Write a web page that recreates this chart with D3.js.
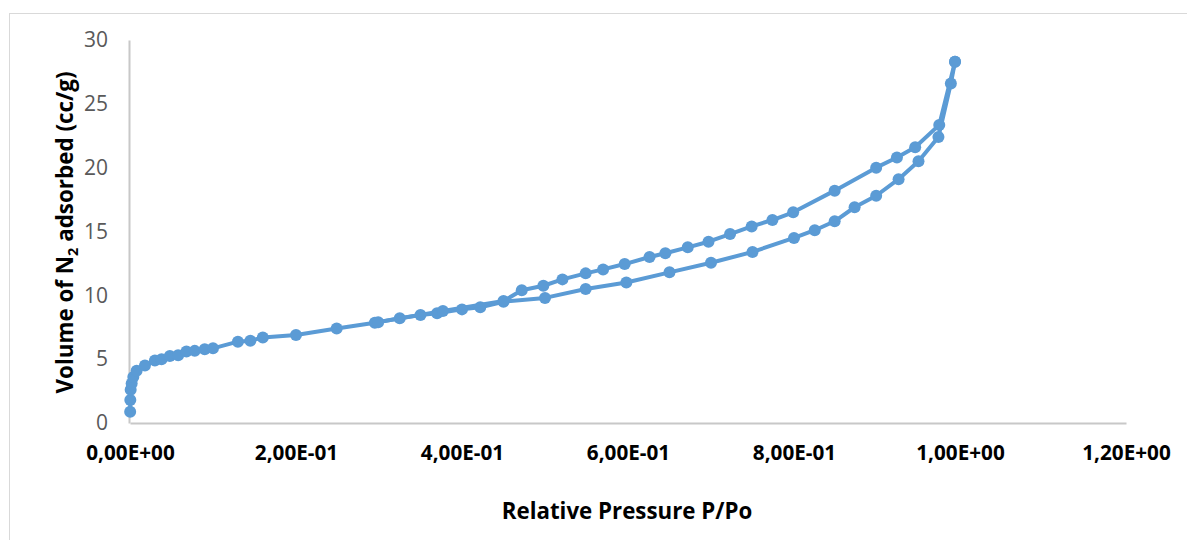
<!DOCTYPE html>
<html>
<head>
<meta charset="utf-8">
<script src="https://cdn.jsdelivr.net/npm/d3@7"></script>
<style>
  body { margin: 0; background: #fff; }
  text { font-family: "Open Sans", "Noto Sans", sans-serif; }
</style>
</head>
<body>
<div id="chart"></div>
<script>
const width = 1187, height = 540;
const margins = { top: 40, right: 61, bottom: 117, left: 130 };

// N2 isotherm, [P/Po, volume cc/g]
const adsorption = [
  [0.0002, 0.88], [0.0004, 1.8], [0.0008, 2.6], [0.002, 3.1], [0.004, 3.6],
  [0.008, 4.1], [0.018, 4.5], [0.030, 4.9], [0.038, 5.0], [0.048, 5.25],
  [0.058, 5.3], [0.068, 5.6], [0.078, 5.65], [0.090, 5.77], [0.100, 5.85],
  [0.130, 6.37], [0.145, 6.45], [0.160, 6.7], [0.200, 6.9], [0.249, 7.4],
  [0.295, 7.85], [0.325, 8.2], [0.350, 8.46], [0.370, 8.6], [0.400, 8.9],
  [0.422, 9.06], [0.450, 9.5], [0.500, 9.8], [0.549, 10.5], [0.598, 11.0],
  [0.650, 11.8], [0.700, 12.55], [0.750, 13.4], [0.800, 14.5], [0.825, 15.1],
  [0.849, 15.8], [0.873, 16.9], [0.899, 17.8], [0.926, 19.1], [0.950, 20.5],
  [0.974, 22.4], [0.989, 26.6], [0.994, 28.3]
];
const desorption = [
  [0.994, 28.3], [0.975, 23.35], [0.946, 21.6], [0.924, 20.8], [0.899, 20.0],
  [0.849, 18.2], [0.799, 16.5], [0.774, 15.9], [0.749, 15.4], [0.723, 14.8],
  [0.697, 14.2], [0.672, 13.76], [0.645, 13.3], [0.626, 13.0], [0.596, 12.45],
  [0.570, 12.03], [0.549, 11.72], [0.521, 11.25], [0.498, 10.75], [0.472, 10.4],
  [0.450, 9.55], [0.377, 8.77], [0.299, 7.9]
];
const xTicks = [0, 0.2, 0.4, 0.6, 0.8, 1.0, 1.2];
const xTickLabels = ["0,00E+00", "2,00E-01", "4,00E-01", "6,00E-01", "8,00E-01", "1,00E+00", "1,20E+00"];
const yTicks = [0, 5, 10, 15, 20, 25, 30];

const svg = d3.select("#chart")
    .append("svg")
    .attr("width", width)
    .attr("height", height);

// chart area border
svg.append("rect")
    .attr("x", 9.5).attr("y", 13.5)
    .attr("width", width).attr("height", height)
    .attr("fill", "none")
    .attr("stroke", "#d9d9d9");

const x = d3.scaleLinear()
    .domain([0, 1.2])
    .range([margins.left, width - margins.right]);

const y = d3.scaleLinear()
    .domain([0, 30])
    .range([height - margins.bottom, margins.top]);

// x axis
const xAxis = svg.append("g")
    .attr("transform", `translate(0,${y(0)})`)
    .call(d3.axisBottom(x).tickValues(xTicks).tickSize(0).tickPadding(22)
        .tickFormat((d, i) => xTickLabels[i]));
xAxis.select(".domain").attr("stroke", "#c8c8c8").attr("stroke-width", 2);
xAxis.selectAll(".tick text")
    .attr("font-size", 20.7)
    .attr("font-weight", "bold")
    .attr("fill", "#000");

// y axis
const yAxis = svg.append("g")
    .attr("transform", `translate(${x(0) - 1},0)`)
    .call(d3.axisLeft(y).tickValues(yTicks).tickSize(0).tickPadding(21));
yAxis.select(".domain").attr("stroke", "#c8c8c8").attr("stroke-width", 2);
yAxis.selectAll(".tick text")
    .attr("font-size", 21)
    .attr("fill", "#595959");

const line = d3.line()
    .x(d => x(d[0]))
    .y(d => y(d[1]));

const color = "#5b9bd5";

[adsorption, desorption].forEach(series => {
    svg.append("path")
        .datum(series)
        .attr("d", line)
        .attr("fill", "none")
        .attr("stroke", color)
        .attr("stroke-width", 4)
        .attr("stroke-linejoin", "round");
    svg.append("g")
        .selectAll("circle")
        .data(series)
        .join("circle")
        .attr("cx", d => x(d[0]))
        .attr("cy", d => y(d[1]))
        .attr("r", 6)
        .attr("fill", color);
});

// axis titles
svg.append("text")
    .attr("x", 627).attr("y", 519)
    .attr("text-anchor", "middle")
    .attr("font-size", 22.3)
    .attr("font-weight", "bold")
    .text("Relative Pressure P/Po");

const yTitle = svg.append("text")
    .attr("transform", `translate(73,${(y(0) + y(30)) / 2 + 1}) rotate(-90)`)
    .attr("text-anchor", "middle")
    .attr("font-size", 22.4)
    .attr("font-weight", "bold");
yTitle.append("tspan").text("Volume of N");
yTitle.append("tspan").attr("font-size", 14.5).attr("dy", 5).text("2");
yTitle.append("tspan").attr("dy", -5).text(" adsorbed (cc/g)");
</script>
</body>
</html>
